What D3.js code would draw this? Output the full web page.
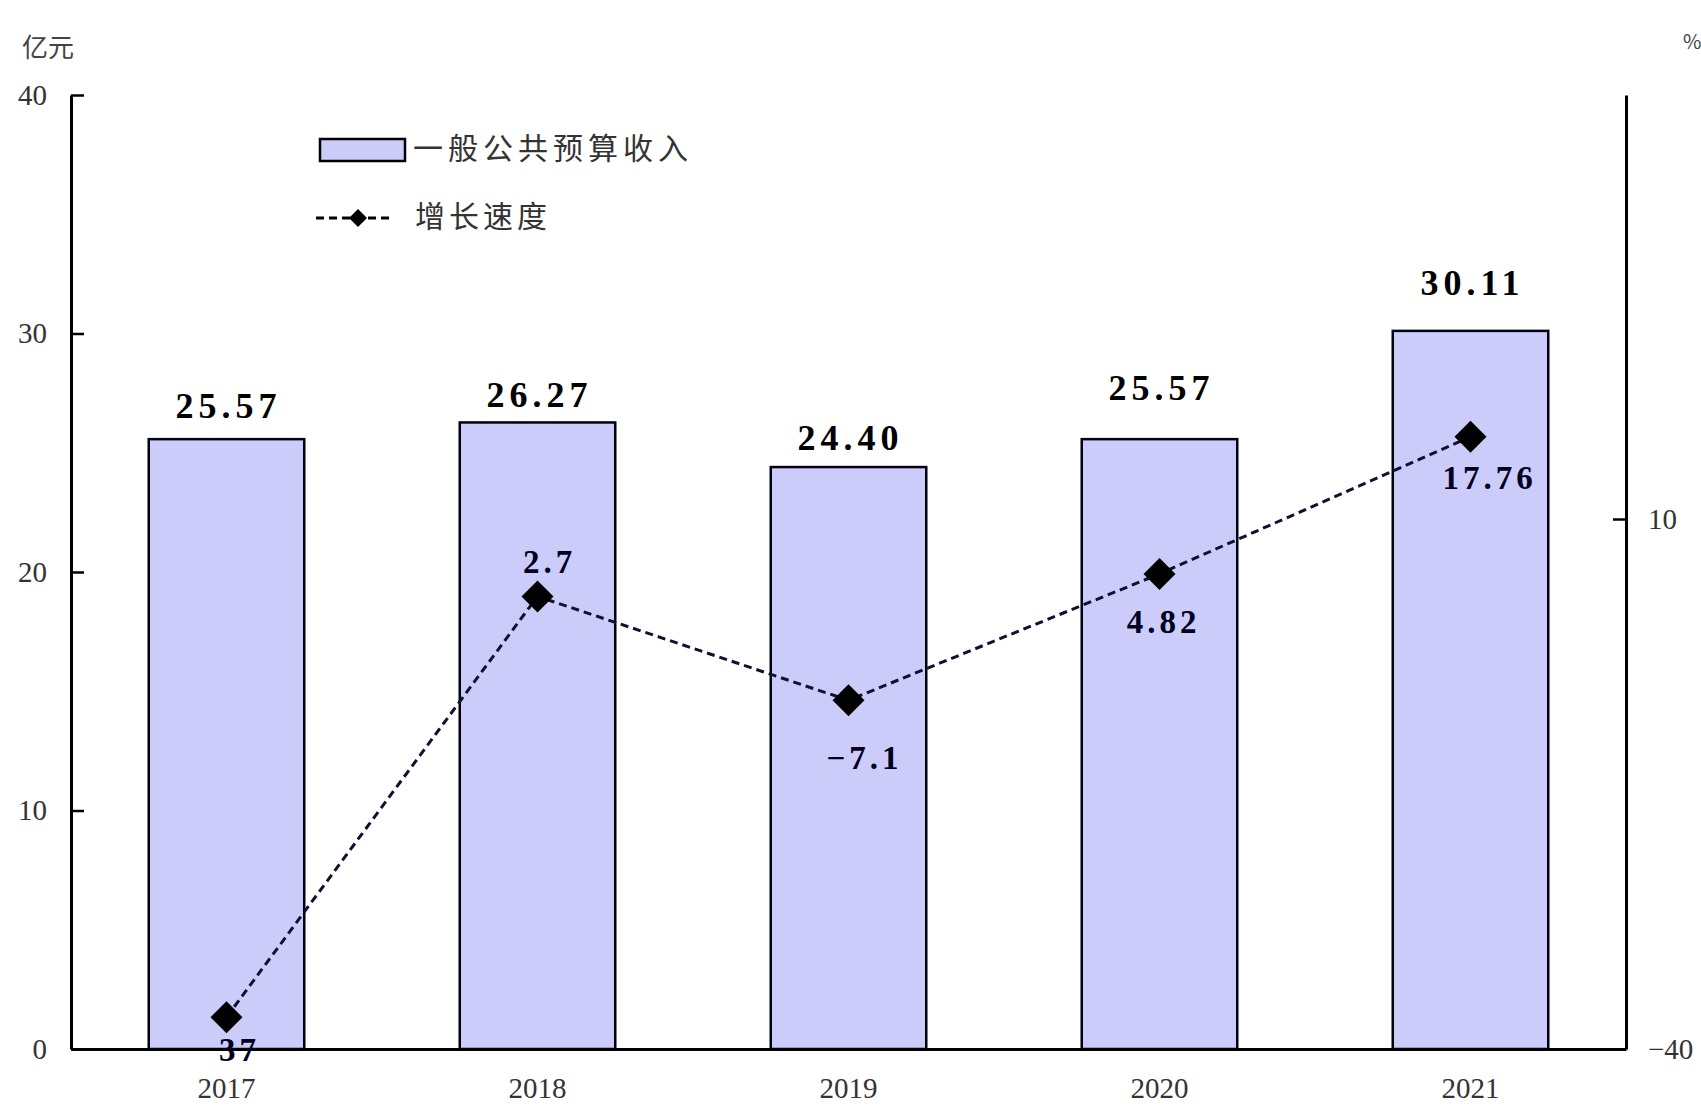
<!DOCTYPE html>
<html><head><meta charset="utf-8">
<script src="https://cdn.jsdelivr.net/npm/d3@7"></script>
<style>
html,body{margin:0;padding:0;background:#fff;}
svg{display:block;}
</style>
</head><body>
<svg id="chart" width="1701" height="1117"></svg>
<script>
// ---- data ----
const years = ["2017", "2018", "2019", "2020", "2021"];
const revenue = [25.57, 26.27, 24.40, 25.57, 30.11];
const revenueLabels = ["25.57", "26.27", "24.40", "25.57", "30.11"];
const growth = [-37, 2.7, -7.1, 4.82, 17.76];
const growthLabels = ["37", "2.7", "−7.1", "4.82", "17.76"];
const leftTicks = [0, 10, 20, 30, 40];
const rightTicks = [-40, 10];
const seriesNames = ["一般公共预算收入", "增长速度"];

// ---- layout nudges (manual label placement in original) ----
const barLabelLift = [21, 15, 17, 39, 36];
const lineLabelDx = [13, 12, 16, 4, 19];
const lineLabelDy = [33, -34, 58, 48, 41];

const svg = d3.select("#chart");
const L = 71, R = 1626, T = 95, B = 1049;

const x = d3.scaleBand().domain(years).range([L, R]).paddingInner(0.5).paddingOuter(0.25);
const yL = d3.scaleLinear().domain([0, 40]).range([B, T]);
const yR = d3.scaleLinear().domain([-40, 50]).range([B, T]);

const tickFont = "'Liberation Serif','DejaVu Serif',serif";
const cjkFont = "'Noto Sans CJK SC','Noto Sans',sans-serif";

// bars
svg.append("g").selectAll("rect").data(years).join("rect")
  .attr("x", d => x(d))
  .attr("y", (d, i) => yL(revenue[i]))
  .attr("width", x.bandwidth())
  .attr("height", (d, i) => yL(0) - yL(revenue[i]))
  .attr("fill", "#ccccfa")
  .attr("stroke", "#000010")
  .attr("stroke-width", 2.5);

// bar labels
svg.append("g").selectAll("text").data(years).join("text")
  .attr("x", d => x(d) + x.bandwidth() / 2 + 2)
  .attr("y", (d, i) => yL(revenue[i]) - barLabelLift[i])
  .attr("text-anchor", "middle")
  .attr("font-family", tickFont)
  .attr("font-weight", "bold")
  .attr("font-size", 36)
  .attr("letter-spacing", 5)
  .attr("fill", "#000")
  .text((d, i) => revenueLabels[i]);

// axes
const axL = svg.append("g").attr("transform", `translate(${L},0)`)
  .call(d3.axisLeft(yL).tickValues(leftTicks).tickSizeInner(-13).tickSizeOuter(0).tickPadding(24).tickFormat(d3.format("d")));
const axR = svg.append("g").attr("transform", `translate(${R},0)`)
  .call(d3.axisRight(yR).tickValues(rightTicks).tickSizeInner(-13).tickSizeOuter(0).tickPadding(22).tickFormat(d => d < 0 ? "−" + Math.abs(d) : d));
const axB = svg.append("g").attr("transform", `translate(0,${B})`)
  .call(d3.axisBottom(x).tickSize(0).tickPadding(27));

[axL, axR, axB].forEach(g => {
  g.selectAll("path.domain").attr("stroke", "#000").attr("stroke-width", 3);
  g.selectAll(".tick line").attr("stroke", "#000").attr("stroke-width", 2.5);
  g.selectAll(".tick text").attr("font-family", tickFont).attr("font-size", 29).attr("fill", "#333");
});
axB.selectAll(".tick text").attr("dy", "0.75em");

// line
const lineGen = d3.line()
  .x((d, i) => x(years[i]) + x.bandwidth() / 2)
  .y(d => yR(d));
svg.append("path").datum(growth)
  .attr("d", lineGen)
  .attr("fill", "none")
  .attr("stroke", "#101030")
  .attr("stroke-width", 3)
  .attr("stroke-dasharray", "8,5");

const diamond = r => `M0,${-r}L${r},0L0,${r}L${-r},0Z`;
svg.append("g").selectAll("path").data(growth).join("path")
  .attr("transform", (d, i) => `translate(${x(years[i]) + x.bandwidth() / 2},${yR(d)})`)
  .attr("d", diamond(16))
  .attr("fill", "#000");

svg.append("g").selectAll("text").data(growth).join("text")
  .attr("x", (d, i) => x(years[i]) + x.bandwidth() / 2 + lineLabelDx[i])
  .attr("y", (d, i) => yR(d) + lineLabelDy[i])
  .attr("text-anchor", "middle")
  .attr("dominant-baseline", "central")
  .attr("font-family", tickFont)
  .attr("font-weight", "bold")
  .attr("font-size", 33)
  .attr("letter-spacing", 4)
  .attr("fill", "#000020")
  .text((d, i) => growthLabels[i]);

// unit labels
svg.append("text").attr("x", 22).attr("y", 45).attr("dominant-baseline", "central")
  .attr("font-family", cjkFont).attr("font-size", 26).attr("fill", "#444").text("亿元");
svg.append("text").attr("x", 1683).attr("y", 40).attr("dominant-baseline", "central")
  .attr("font-family", cjkFont).attr("font-size", 20).attr("fill", "#444").text("%");

// legend
const lg = svg.append("g");
lg.append("rect").attr("x", 320).attr("y", 139).attr("width", 85).attr("height", 22)
  .attr("fill", "#ccccfa").attr("stroke", "#000").attr("stroke-width", 2.5);
lg.append("text").attr("x", 413).attr("y", 146).attr("dominant-baseline", "central")
  .attr("font-family", cjkFont).attr("font-size", 30).attr("letter-spacing", 5).attr("fill", "#333")
  .text(seriesNames[0]);
lg.append("line").attr("x1", 316).attr("x2", 392).attr("y1", 218).attr("y2", 218)
  .attr("stroke", "#000").attr("stroke-width", 3).attr("stroke-dasharray", "8,5");
lg.append("path").attr("transform", "translate(358,218)").attr("d", diamond(9)).attr("fill", "#000");
lg.append("text").attr("x", 415).attr("y", 214).attr("dominant-baseline", "central")
  .attr("font-family", cjkFont).attr("font-size", 30).attr("letter-spacing", 4).attr("fill", "#333")
  .text(seriesNames[1]);
</script>
</body></html>
